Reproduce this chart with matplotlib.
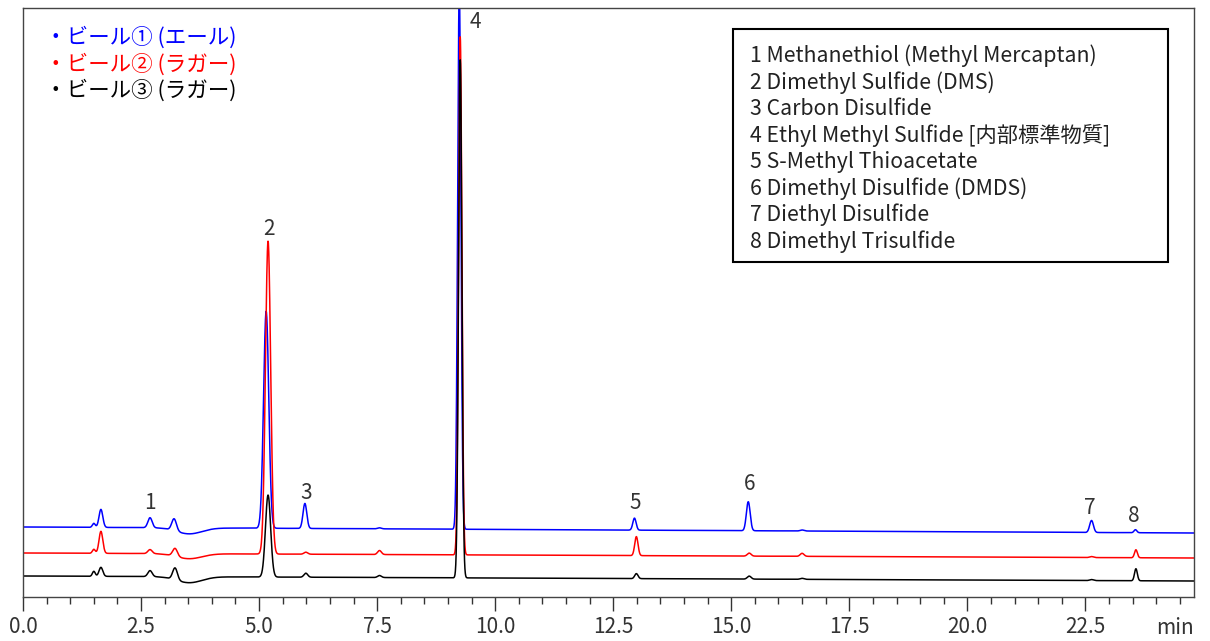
import numpy as np
import matplotlib
matplotlib.use('Agg')
import matplotlib.pyplot as plt
from matplotlib.patches import Rectangle

plt.rcParams['font.family'] = ['Noto Sans CJK JP', 'DejaVu Sans']

# retention times (min) per sample and peak widths (sigma, min); the 3.5 entry is the dip after 3.2
times_ale = [1.50, 1.65, 2.69, 3.20, 3.52, 5.15, 5.97, 7.55, 9.24, 12.95, 15.36, 16.50, 22.63, 23.56]
times_lager = [1.50, 1.65, 2.69, 3.22, 3.52, 5.19, 5.99, 7.55, 9.26, 12.99, 15.38, 16.50, 22.63, 23.57]
peak_widths = [0.03, 0.04, 0.045, 0.05, 0.27, 0.055, 0.04, 0.04, 0.035, 0.035, 0.04, 0.04, 0.04, 0.03]

# peak heights per sample (signal units)
heights_ale = [4, 18, 10, 12, -6, 217, 25, 1, 540, 12, 29, 1, 12, 3]
heights_lager_a = [4, 22, 4, 8, -5, 313, 2, 4, 518, 19, 3, 3, 1, 8]
heights_lager_b = [5, 9, 6, 12, -6, 82, 4, 2, 518, 5, 3, 1, 1, 12]

# baseline at start / end of run
baseline_ale = [70, 64]
baseline_lager_a = [44, 39]
baseline_lager_b = [21, 16]

sample_names = ['・ビール① (エール)', '・ビール② (ラガー)', '・ビール③ (ラガー)']
sample_colors = ['#0000ff', '#ff0000', '#000000']

peak_labels = ['1', '2', '3', '4', '5', '6', '7', '8']
label_x = [2.69, 5.21, 6.00, 9.58, 12.97, 15.38, 22.60, 23.52]
label_y = [94, 368, 104, 575, 94, 113, 89, 81]

compounds = ['1 Methanethiol (Methyl Mercaptan)',
             '2 Dimethyl Sulfide (DMS)',
             '3 Carbon Disulfide',
             '4 Ethyl Methyl Sulfide [内部標準物質]',
             '5 S-Methyl Thioacetate',
             '6 Dimethyl Disulfide (DMDS)',
             '7 Diethyl Disulfide',
             '8 Dimethyl Trisulfide']

t_max = 24.8
t = np.linspace(0, t_max, 6000)


def trace(times, heights, base):
    y = base[0] + (base[1] - base[0]) * t / t_max
    for tr, w, h in zip(times, peak_widths, heights):
        y = y + h * np.exp(-0.5 * ((t - tr) / w) ** 2)
    return y


fig = plt.figure(figsize=(12.1, 6.41), dpi=100)
ax = fig.add_axes([23 / 1210, 44 / 641, 1171 / 1210, 589 / 641])

for times, heights, base, color in zip([times_ale, times_lager, times_lager],
                                       [heights_ale, heights_lager_a, heights_lager_b],
                                       [baseline_ale, baseline_lager_a, baseline_lager_b],
                                       sample_colors):
    ax.plot(t, trace(times, heights, base), color=color, lw=1.1)

ax.set_xlim(0, t_max)
ax.set_ylim(0, 589)
ax.set_xticks(np.arange(0, 23, 2.5))
ax.set_xticks(np.arange(0, t_max, 0.5), minor=True)
ax.set_xticklabels([f'{v:.1f}' for v in np.arange(0, 23, 2.5)])
ax.set_yticks([])
ax.tick_params(axis='x', which='major', length=10, width=1, colors='#333333', labelsize=15, pad=4)
ax.tick_params(axis='x', which='minor', length=5, width=1, colors='#333333')
for s in ax.spines.values():
    s.set_color('#444444')
    s.set_linewidth(1)

ax.text(1.0, -0.052, 'min', transform=ax.transAxes, ha='right', va='center',
        fontsize=15, color='#333333')

for lab, x, y in zip(peak_labels, label_x, label_y):
    ax.text(x, y, lab, ha='center', va='center', fontsize=15, color='#333333')

# sample legend, top left
for i, (name, color) in enumerate(zip(sample_names, sample_colors)):
    ax.text(0.019, (597 - 38 - 26.5 * i) / 589, name, transform=ax.transAxes, ha='left', va='center',
            fontsize=15.5, color=color)

# compound list box
ax.add_patch(Rectangle((0.606, 0.569), 0.372, 0.395, transform=ax.transAxes,
                       facecolor='white', edgecolor='black', lw=1.5, zorder=5))
for i, c in enumerate(compounds):
    ax.text(0.621, (597 - 56 - 26.5 * i) / 589, c, transform=ax.transAxes,
            ha='left', va='center', fontsize=15.3, color='#222222', zorder=6)

fig.savefig('out.png', dpi=100)
